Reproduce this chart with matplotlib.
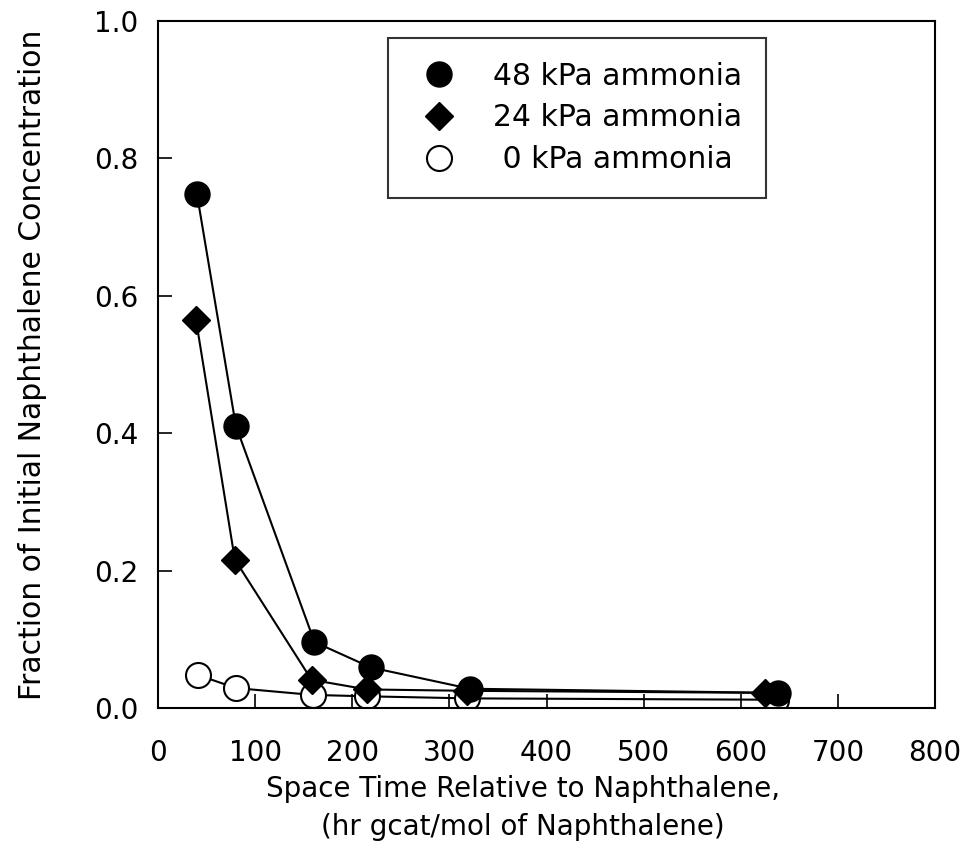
import matplotlib
matplotlib.use('Agg')
import matplotlib.pyplot as plt

plt.rcParams['font.family'] = ['DejaVu Sans']

# Data
x_48 = [40, 80, 161, 219, 321, 638]
y_48 = [0.748, 0.411, 0.096, 0.059, 0.028, 0.022]

x_24 = [39, 79, 158, 215, 318, 625]
y_24 = [0.565, 0.216, 0.041, 0.027, 0.025, 0.022]

x_0 = [41, 80, 159, 215, 318, 636]
y_0 = [0.048, 0.029, 0.019, 0.017, 0.014, 0.012]

labels = ['48 kPa ammonia', '24 kPa ammonia', ' 0 kPa ammonia']
x_ticks = [0, 100, 200, 300, 400, 500, 600, 700, 800]
y_ticks = [0.0, 0.2, 0.4, 0.6, 0.8, 1.0]

fig = plt.figure(figsize=(9.7, 8.59), dpi=100)
ax = fig.add_axes([0.163, 0.1758, 0.801, 0.7999])

ax.plot(x_0, y_0, color='black', lw=1.5, marker='o', ms=18,
        mfc='white', mec='black', mew=1.5, label=labels[2], zorder=2)
ax.plot(x_24, y_24, color='black', lw=1.5, marker='D', ms=14,
        mfc='black', mec='black', label=labels[1], zorder=3)
ax.plot(x_48, y_48, color='black', lw=1.5, marker='o', ms=18,
        mfc='black', mec='black', label=labels[0], zorder=4)

ax.set_xlim(0, 800)
ax.set_ylim(0, 1.0)
ax.set_xticks(x_ticks)
ax.set_yticks(y_ticks)
ax.set_xticklabels([str(v) for v in x_ticks])
ax.set_yticklabels(['%.1f' % v for v in y_ticks])
ax.tick_params(direction='in', length=10, width=1.2, labelsize=20)
ax.tick_params(axis='x', pad=22)
ax.tick_params(axis='y', pad=14)

for s in ax.spines.values():
    s.set_linewidth(1.5)

ax.set_xlabel('Space Time Relative to Naphthalene,\n(hr gcat/mol of Naphthalene)',
              fontsize=20, linespacing=1.45, labelpad=6)
ax.xaxis.label.set_x(0.47)
ax.set_ylabel('Fraction of Initial Naphthalene Concentration', fontsize=21.5,
              labelpad=34)

# legend, ordered 48 / 24 / 0
handles, labs = ax.get_legend_handles_labels()
order = [2, 1, 0]
leg = ax.legend([handles[i] for i in order], [labs[i] for i in order],
                loc='upper left', bbox_to_anchor=(0.296, 0.975),
                fontsize=21.5, frameon=True, fancybox=False, edgecolor='black',
                borderpad=0.8, handletextpad=0.9, labelspacing=0.42,
                handlelength=1.8, markerscale=1.0, borderaxespad=0)
leg.get_frame().set_linewidth(1.5)
for line in leg.get_lines():
    line.set_linestyle('none')

fig.savefig('out.png', dpi=100)
